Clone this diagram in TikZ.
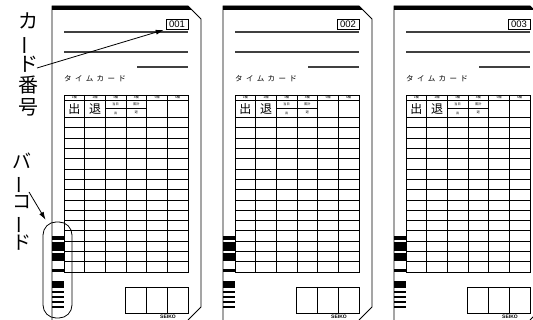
\documentclass[tikz,border=0pt]{standalone}
\usepackage{fontspec}
\setsansfont{Liberation Sans}
\newfontfamily\jpfont{Noto Sans CJK JP}
\newfontfamily\jpwide[LetterSpace=45]{Noto Sans CJK JP}
\usetikzlibrary{positioning,arrows.meta}

\begin{document}
\begin{tikzpicture}[x=1pt, y=-1pt,
  cardedge/.style={line width=0.8pt, black},
  ruleline/.style={line width=1.1pt, black!75},
  gridline/.style={line width=0.7pt, black},
  numbox/.style={draw, line width=0.7pt, minimum width=22pt, minimum height=10pt,
    inner sep=0pt, font=\sffamily\fontsize{9.5}{10}\selectfont},
  tinylbl/.style={inner sep=0pt, font=\jpfont\fontsize{3.2}{3.5}\selectfont},
  bigkanji/.style={inner sep=0pt, font=\jpfont\fontsize{12}{12}\selectfont},
  callout/.style={inner sep=0pt, align=center, font=\jpfont\fontsize{20}{21.5}\selectfont},
  pointer/.style={-{Latex[length=8pt,width=5pt]}, line width=0.8pt, shorten >=2pt}]
  \useasboundingbox (0,0) rectangle (533,320);
  \clip (0,0) rectangle (533,320);
  \foreach \c [count=\k] in {001,002,003} {
    \begin{scope}[xshift={52+(\k-1)*171}]
      \fill (0,6) -- (136,6) -- (140,10) -- (0,10) -- cycle;
      \draw[cardedge] (0,320) -- (0,6) -- (136,6) -- (149,19) -- (149,307) -- (136,320);
      \node[numbox] (no\k) at (125,24) {\c};
      \draw[ruleline] (12,32) -- (136,32);
      \draw[ruleline] (12,52) -- (136,52);
      \draw[ruleline] (85,67) -- (136,67);
      \node[anchor=west, inner sep=0pt, font=\jpwide\fontsize{7.5}{8}\selectfont] (title\k) at (12,79) {タイムカード};
      \draw[gridline] (12,95) rectangle (136,272);
      \foreach \y in {100,117.5} \draw[gridline] (12,\y) -- (136,\y);
      \foreach \r in {1,...,14} \draw[gridline] (12,{117.5+\r*10.3}) -- (136,{117.5+\r*10.3});
      \foreach \x in {1,...,5} \draw[gridline] ({12+\x*20.67},95) -- ({12+\x*20.67},272);
      \draw[gridline] (53.33,108.5) -- (94.67,108.5);
      \foreach \n in {1,...,6} \node[tinylbl] (head\k\n) at ({12+(\n-0.5)*20.67},97.6) {\n 欄};
      \node[bigkanji] (in\k) at (22.33,109) {出};
      \node[bigkanji] (out\k) at (43,109) {退};
      \node[tinylbl] (today\k) at (63.67,104.3) {当日};
      \node[tinylbl] (total\k) at (84.33,104.3) {累計};
      \node[tinylbl] (tin\k) at (63.67,112.8) {出};
      \node[tinylbl] (tout\k) at (84.33,112.8) {退};
      \draw[gridline] (73,287) rectangle (136,313);
      \draw[gridline] (94,287) -- (94,313);
      \draw[gridline] (115,287) -- (115,313);
      \node[inner sep=0pt, font=\sffamily\bfseries\fontsize{5}{5}\selectfont] (seiko\k) at (116,316.5) {SEIKO};
      \foreach \a/\b in {236/240,242.5/251,253.5/261.5,269/272.5,281/288,291/293.5,296/298.5,301/303.5,306/308.5}
        \fill (0,\a) rectangle (12,\b);
    \end{scope}
  }
  \node[callout] (cardlbl) at (28,64) {カ\\\rotatebox[origin=c]{90}{ー}\\ド\\番\\号};
  \coordinate (cardtail) at (37,68);
  \draw[pointer] (cardtail) -- (no1.south west);
  \node[callout, font=\jpfont\fontsize{19}{20}\selectfont] (barlbl) at (22,202)
    {バ\\\rotatebox[origin=c]{90}{ー}\\コ\\\rotatebox[origin=c]{90}{ー}\\ド};
  \node[draw, rounded corners=13pt, line width=0.8pt, minimum width=29pt,
    minimum height=96pt, inner sep=0pt] (barcode) at (57.5,270) {};
  \coordinate (bartail) at (29,192);
  \draw[pointer] (bartail) -- ([xshift=4pt]barcode.north west);
\end{tikzpicture}
\end{document}
